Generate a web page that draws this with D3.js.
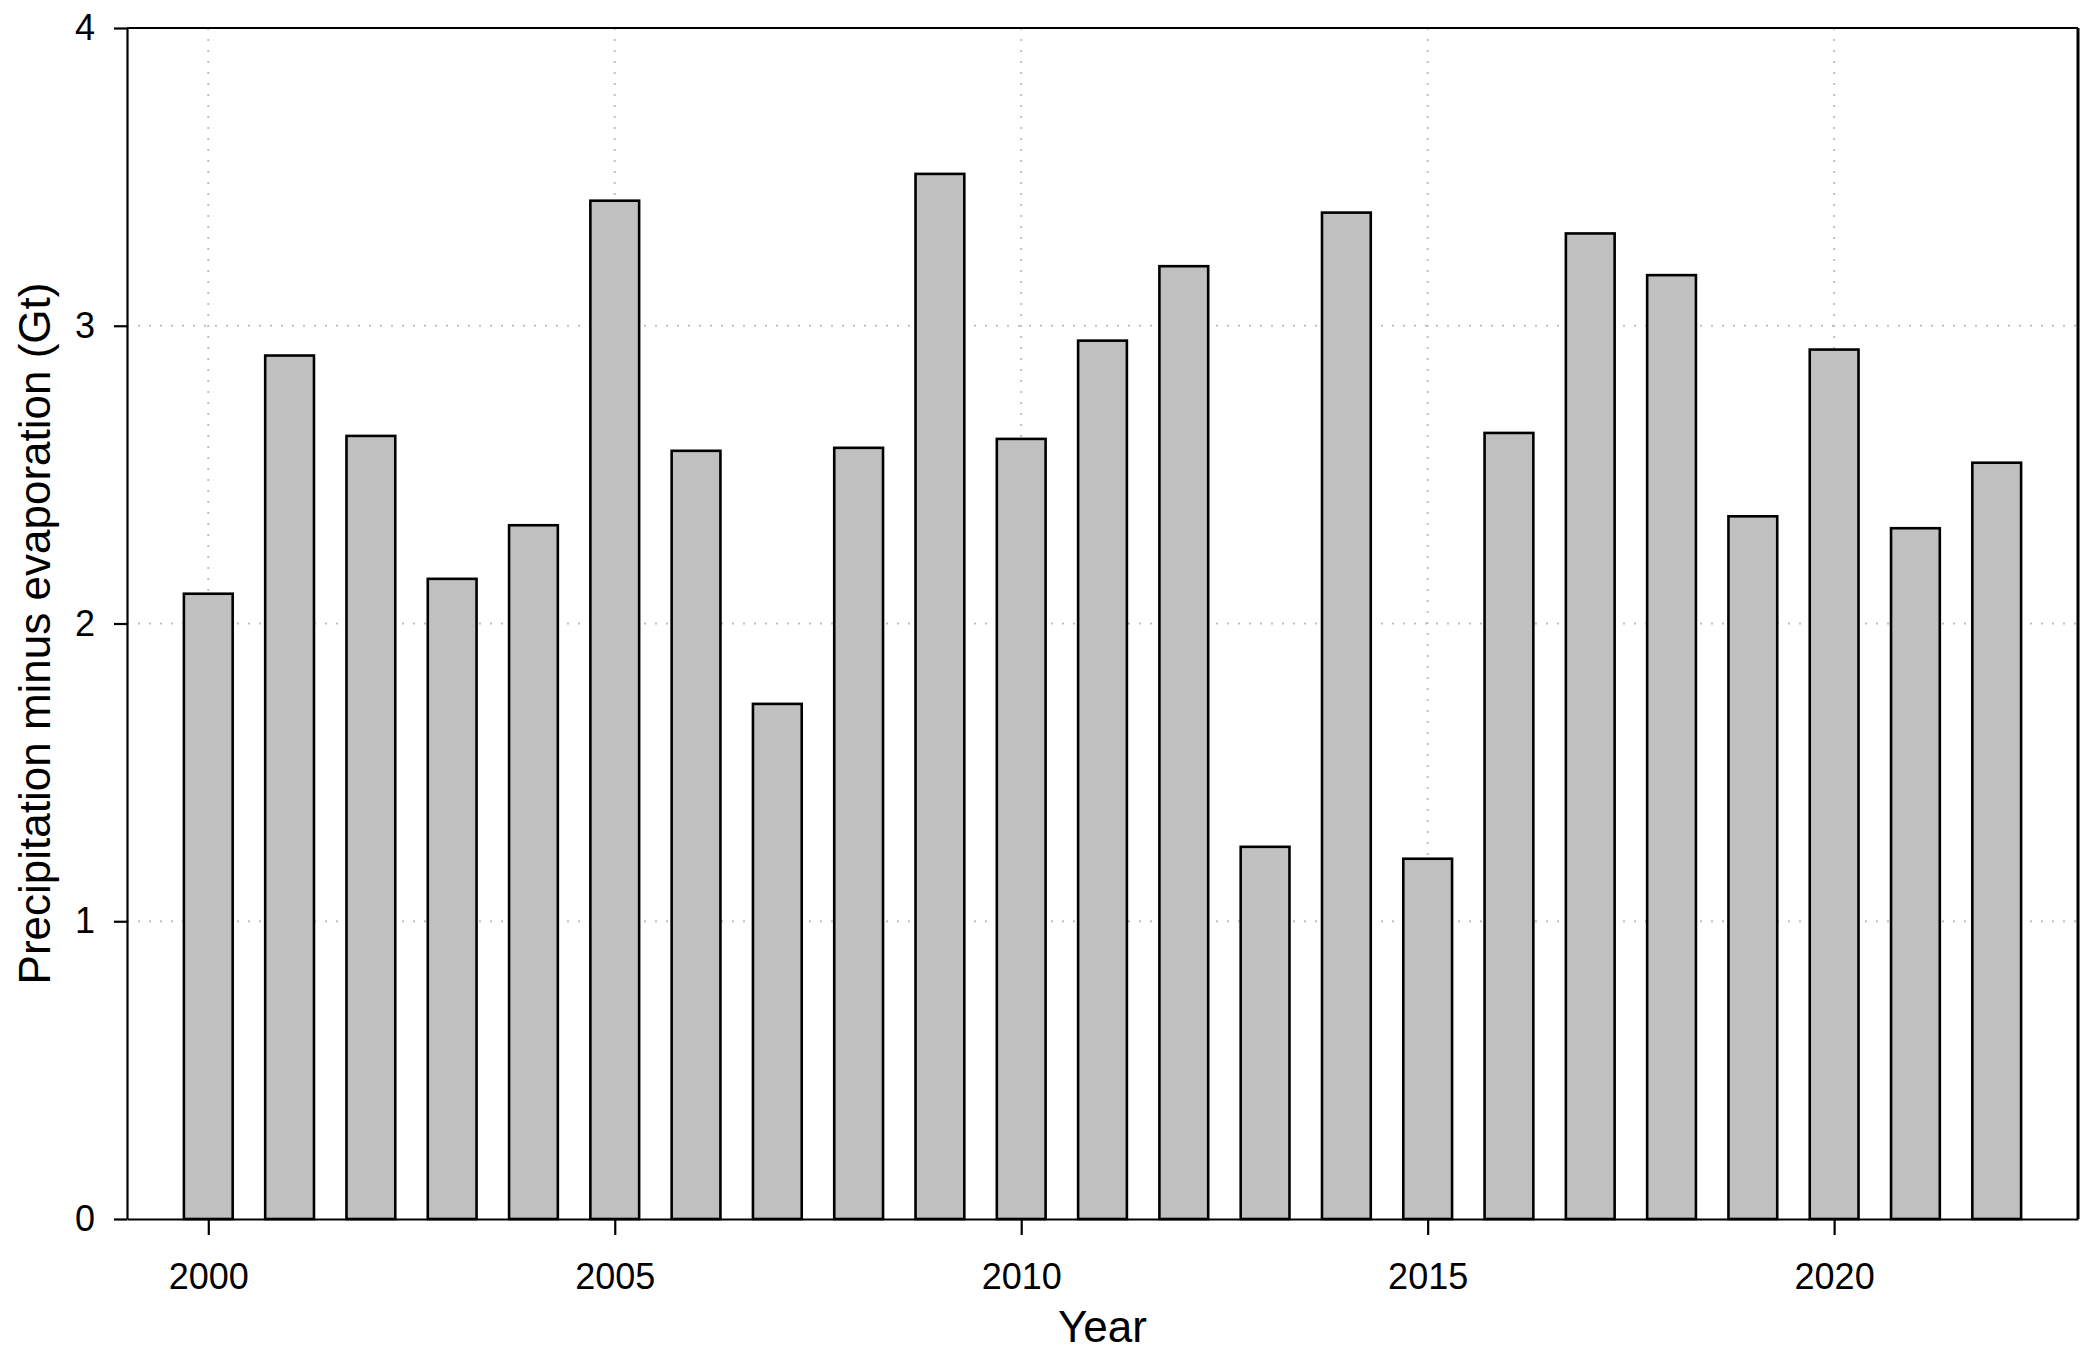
<!DOCTYPE html>
<html>
<head>
<meta charset="utf-8">
<script src="https://cdn.jsdelivr.net/npm/d3@7"></script>
<style>
  html, body { margin: 0; padding: 0; background: #ffffff; }
  svg { display: block; }
  text { font-family: "Liberation Sans", Arial, sans-serif; fill: #000; }
</style>
</head>
<body>
<div id="chart"></div>
<script>
// ---- data ----
const years = [2000, 2001, 2002, 2003, 2004, 2005, 2006, 2007, 2008, 2009, 2010, 2011,
               2012, 2013, 2014, 2015, 2016, 2017, 2018, 2019, 2020, 2021, 2022];
const values = [2.10, 2.90, 2.63, 2.15, 2.33, 3.42, 2.58, 1.73, 2.59, 3.51, 2.62, 2.95,
                3.20, 1.25, 3.38, 1.21, 2.64, 3.31, 3.17, 2.36, 2.92, 2.32, 2.54];
const xTicks = [2000, 2005, 2010, 2015, 2020];
const yTicks = [0, 1, 2, 3, 4];
const xTitle = "Year";
const yTitle = "Precipitation minus evaporation (Gt)";

// ---- layout ----
const W = 2095, H = 1361;
const mLeft = 127, mRight = 2078, mTop = 28, mBottom = 1219;

const svg = d3.select("#chart").append("svg")
  .attr("width", W).attr("height", H);

const x = d3.scaleLinear().domain([1999, 2023]).range([mLeft, mRight]);
const y = d3.scaleLinear().domain([0, 4]).range([mBottom, mTop]);
const barW = x(1999.6) - x(1999);

// grid lines
const grid = svg.append("g").attr("stroke", "#c0c0c0").attr("stroke-width", 2)
  .attr("stroke-dasharray", "2,9");
grid.selectAll("line.gx").data(xTicks).join("line").attr("class", "gx")
  .attr("x1", d => x(d)).attr("x2", d => x(d))
  .attr("y1", mTop).attr("y2", mBottom);
grid.selectAll("line.gy").data(yTicks.filter(d => d > 0 && d < 4)).join("line").attr("class", "gy")
  .attr("x1", mLeft).attr("x2", mRight)
  .attr("y1", d => y(d)).attr("y2", d => y(d));

// bars
svg.append("g").selectAll("rect").data(years).join("rect")
  .attr("x", (d) => x(d) - barW / 2)
  .attr("width", barW)
  .attr("y", (d, i) => y(values[i]))
  .attr("height", (d, i) => y(0) - y(values[i]))
  .attr("fill", "#c0c0c0")
  .attr("stroke", "#000")
  .attr("stroke-width", 2.6);

// axes
const yAxis = d3.axisLeft(y).tickValues(yTicks).tickFormat(d3.format("d"))
  .tickSize(13).tickSizeOuter(0).tickPadding(19);
const gy = svg.append("g").attr("transform", `translate(${mLeft},0)`).call(yAxis);
gy.select(".domain").attr("stroke", "#000").attr("stroke-width", 2.2);
gy.selectAll(".tick line").attr("stroke", "#000").attr("stroke-width", 2.2);
gy.selectAll(".tick text").style("font-size", "36px").style("font-family", "Liberation Sans, Arial, sans-serif").attr("fill", "#000");

const xAxis = d3.axisBottom(x).tickValues(xTicks).tickFormat(d3.format("d"))
  .tickSize(16).tickSizeOuter(0).tickPadding(28);
const gx = svg.append("g").attr("transform", `translate(0,${mBottom})`).call(xAxis);
gx.select(".domain").attr("stroke", "#000").attr("stroke-width", 2.2);
gx.selectAll(".tick line").attr("stroke", "#000").attr("stroke-width", 2.2);
gx.selectAll(".tick text").style("font-size", "36px").style("font-family", "Liberation Sans, Arial, sans-serif").attr("fill", "#000");

// frame top and right
svg.append("line").attr("x1", mLeft).attr("x2", mRight).attr("y1", mTop).attr("y2", mTop)
  .attr("stroke", "#000").attr("stroke-width", 2.2);
svg.append("line").attr("x1", mRight).attr("x2", mRight).attr("y1", mTop).attr("y2", mBottom)
  .attr("stroke", "#000").attr("stroke-width", 3);

// titles
svg.append("text").attr("x", (mLeft + mRight) / 2).attr("y", 1342)
  .attr("text-anchor", "middle").style("font-size", "44px").text(xTitle);
svg.append("text").attr("transform", `translate(50,${(mTop + mBottom) / 2 + 10}) rotate(-90)`)
  .attr("text-anchor", "middle").style("font-size", "44px").text(yTitle);
</script>
</body>
</html>
